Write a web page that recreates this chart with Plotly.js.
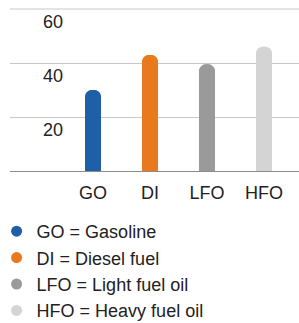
<!DOCTYPE html>
<html>
<head>
<meta charset="utf-8">
<script src="https://cdn.plot.ly/plotly-3.0.1.min.js"></script>
<style>html,body{margin:0;padding:0;background:#fff;}#chart{width:299px;height:323px;}</style>
</head>
<body>
<div id="chart"></div>
<script>
const categories = ["GO", "DI", "LFO", "HFO"];
const values = [30, 43, 39.5, 46];
const legendLabels = ["GO = Gasoline", "DI = Diesel fuel", "LFO = Light fuel oil", "HFO = Heavy fuel oil"];
const colors = ["#1f5fa8", "#e8791d", "#9a9a9a", "#d4d4d4"];
const yTicks = [20, 40, 60];

const traces = [
  {type: "bar", x: categories, y: values, marker: {color: colors}, width: 0.28, showlegend: false, hoverinfo: "skip"},
  {type: "bar", x: categories, y: values.map(v => -v), base: values, marker: {color: colors}, width: 0.28, showlegend: false, hoverinfo: "skip"}
];
legendLabels.forEach((name, i) => {
  traces.push({type: "scatter", mode: "markers", x: [null], y: [null], name: name, legendgroup: "g" + i,
    marker: {color: colors[i], size: 11, symbol: "circle"}});
});

const topTick = yTicks[yTicks.length - 1];
const layout = {
  width: 299, height: 323,
  margin: {l: 10, r: 0, t: 8, b: 152, autoexpand: false},
  paper_bgcolor: "#fff", plot_bgcolor: "#fff",
  font: {family: "Liberation Sans, Arial, sans-serif", size: 18, color: "#222"},
  barmode: "overlay",
  barcornerradius: 8,
  xaxis: {range: [-1.456, 3.614], showline: true, linecolor: "#8c8c8c", linewidth: 1,
    showgrid: false, zeroline: false, ticks: "", tickfont: {size: 18, color: "#222"},
    ticklabelstandoff: 5, fixedrange: true},
  yaxis: {range: [0, 60.37], tickvals: yTicks, ticktext: yTicks.map(String), showgrid: true,
    gridcolor: "#c8c8c8", gridwidth: 1, zeroline: false, showline: false, ticks: "",
    ticklabelposition: "inside", ticklabeloverflow: "allow", ticklabelstandoff: 30, ticklabelshift: 13,
    tickfont: {size: 18, color: "#222"}, fixedrange: true},
  shapes: [{type: "line", xref: "paper", yref: "y", x0: 0, x1: 1, y0: topTick, y1: topTick,
    line: {color: "#c8c8c8", width: 1}, layer: "above"}],
  showlegend: true,
  legend: {x: -0.0464, xanchor: "left", y: -0.2577, yanchor: "top", orientation: "v",
    font: {size: 18, color: "#222"}, bgcolor: "rgba(0,0,0,0)", borderwidth: 0,
    traceorder: "grouped", tracegroupgap: 0}
};
Plotly.newPlot("chart", traces, layout, {displayModeBar: false, staticPlot: true});
</script>
</body>
</html>
